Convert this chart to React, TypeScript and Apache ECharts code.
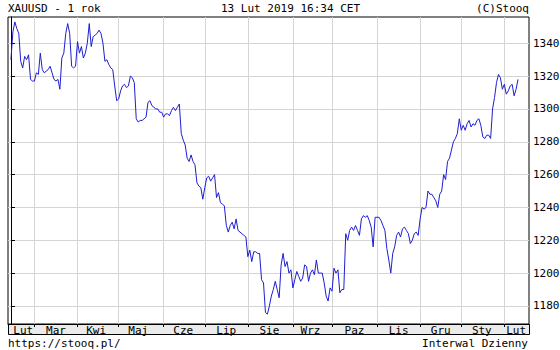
import React, { useEffect, useRef } from "react";
import * as echarts from "echarts";

// Daily XAUUSD closes, one per trading day, 13 Feb 2018 .. 13 Feb 2019
const pricesFeb18 = [1330, 1347, 1353, 1349, 1346, 1329, 1325, 1332, 1330, 1333, 1318, 1317];
const pricesMar18 = [1317, 1322, 1321, 1334, 1324, 1322, 1323, 1324, 1326, 1322, 1318, 1317, 1318, 1312, 1331, 1334, 1346, 1352, 1346, 1326, 1325, 1326];
const pricesApr18 = [1341, 1334, 1338, 1331, 1334, 1340, 1352, 1338, 1344, 1345, 1346, 1348, 1346, 1340, 1329, 1330, 1327, 1325, 1324, 1314, 1305];
const pricesMay18 = [1306, 1311, 1314, 1315, 1313, 1314, 1320, 1319, 1316, 1294, 1292, 1293, 1293, 1294, 1295, 1304, 1305, 1302, 1301, 1300, 1300, 1298, 1298];
const pricesJun18 = [1295, 1297, 1297, 1296, 1299, 1301, 1299, 1301, 1303, 1285, 1281, 1278, 1270, 1268, 1272, 1268, 1266, 1255, 1253, 1252, 1245];
const pricesJul18 = [1252, 1258, 1259, 1256, 1258, 1260, 1246, 1249, 1243, 1242, 1241, 1229, 1225, 1229, 1231, 1227, 1233, 1226, 1225, 1224, 1223, 1222];
const pricesAug18 = [1210, 1214, 1207, 1213, 1213, 1212, 1212, 1196, 1194, 1176, 1175, 1180, 1186, 1190, 1195, 1190, 1185, 1205, 1212, 1204, 1207, 1200, 1202];
const pricesSep18 = [1191, 1196, 1201, 1198, 1195, 1197, 1205, 1204, 1195, 1200, 1202, 1199, 1208, 1200, 1200, 1200, 1194, 1186, 1183, 1191];
const pricesOct18 = [1189, 1203, 1200, 1202, 1188, 1190, 1190, 1224, 1220, 1226, 1228, 1226, 1229, 1226, 1223, 1233, 1235, 1234, 1235, 1232, 1228, 1216, 1234];
const pricesNov18 = [1234, 1234, 1232, 1229, 1226, 1215, 1208, 1200, 1212, 1216, 1223, 1225, 1222, 1227, 1228, 1226, 1224, 1218, 1220, 1224, 1225, 1223];
const pricesDec18 = [1233, 1240, 1239, 1240, 1250, 1248, 1248, 1246, 1244, 1240, 1248, 1250, 1260, 1257, 1268, 1270, 1275, 1280, 1282, 1285, 1294];
const pricesJan19 = [1287, 1290, 1287, 1291, 1293, 1289, 1291, 1290, 1293, 1294, 1290, 1283, 1282, 1284, 1284, 1282, 1300, 1307, 1316, 1321, 1319, 1312];
const pricesFeb19 = [1315, 1309, 1311, 1314, 1315, 1308, 1312, 1318];

const prices = [
  ...pricesFeb18, ...pricesMar18, ...pricesApr18, ...pricesMay18, ...pricesJun18, ...pricesJul18,
  ...pricesAug18, ...pricesSep18, ...pricesOct18, ...pricesNov18, ...pricesDec18, ...pricesJan19, ...pricesFeb19,
];

// trading-day index of the first session of each month (Mar 2018 .. Feb 2019)
const monthStarts = [12, 34, 55, 78, 99, 121, 144, 164, 187, 209, 230, 252];
// month label names and their positions (trading-day index)
const monthNames = ["Lut", "Mar", "Kwi", "Maj", "Cze", "Lip", "Sie", "Wrz", "Paz", "Lis", "Gru", "Sty", "Lut"];
const monthLabelPos = [6.3, 23, 43.5, 65, 88, 110, 132, 153, 175.5, 198, 219.5, 240.5, 258];
const yTicks = [1180, 1200, 1220, 1240, 1260, 1280, 1300, 1320, 1340];

const FONT = "DejaVu Sans Mono";

export default function App() {
  const ref = useRef<HTMLDivElement>(null);
  useEffect(() => {
    if (!ref.current) return;
    const chart = echarts.init(ref.current, null, { renderer: "svg" });
    const labelMap: Record<string, string> = {};
    monthLabelPos.forEach((p, i) => (labelMap[String(p)] = monthNames[i]));
    const txt = (text: string, x: number, y: number, align: string) => ({
      type: "text",
      x,
      y,
      silent: true,
      style: { text, fontSize: 11, fontFamily: FONT, fill: "#000", textAlign: align, textVerticalAlign: "middle" },
    });
    chart.setOption({
      animation: false,
      backgroundColor: "#fff",
      grid: {
        left: 8,
        top: 17,
        width: 521,
        height: 307,
        show: true,
        borderColor: "#000",
        borderWidth: 1,
        backgroundColor: "#fff",
        containLabel: false,
        outerBoundsMode: "none",
      },
      xAxis: {
        type: "value",
        min: -1.5,
        max: 264.6,
        axisLine: { show: true, lineStyle: { color: "#000", width: 1 } },
        axisTick: { show: true, inside: false, length: 3, customValues: monthStarts, lineStyle: { color: "#000" } },
        splitLine: { show: true, lineStyle: { color: "#d4d4d4", width: 1 } },
        axisLabel: {
          customValues: monthLabelPos,
          formatter: (v: number) => labelMap[String(v)] ?? "",
          margin: 1,
          fontSize: 11,
          fontFamily: FONT,
          color: "#000",
          lineHeight: 11,
        },
      },
      yAxis: {
        type: "value",
        position: "right",
        min: 1169,
        max: 1356,
        axisLine: { show: true, lineStyle: { color: "#000", width: 1 } },
        axisTick: { show: true, inside: false, length: 4, customValues: yTicks, lineStyle: { color: "#000" } },
        splitLine: { show: true, lineStyle: { color: "#d4d4d4", width: 1 } },
        axisLabel: {
          customValues: yTicks,
          formatter: (v: number) => String(v),
          margin: 4,
          fontSize: 11,
          fontFamily: FONT,
          color: "#000",
        },
      },
      graphic: [
        {
          type: "rect",
          z: -10,
          silent: true,
          shape: { x: 8.5, y: 324.5, width: 521, height: 10 },
          style: { fill: "#ebebeb", stroke: "#000", lineWidth: 1 },
        },
        txt("XAUUSD - 1 rok", 8, 8.5, "left"),
        txt("13 Lut 2019 16:34 CET", 221, 8.5, "left"),
        txt("(C)Stooq", 529, 8.5, "right"),
        txt("https://stooq.pl/", 8, 343, "left"),
        txt("Interwal Dzienny", 528, 343, "right"),
      ],
      series: [
        {
          type: "line",
          data: prices.map((v, i) => [i, v]),
          showSymbol: false,
          symbol: "none",
          lineStyle: { color: "#1e1ed0", width: 1 },
          z: 5,
        },
      ],
    });
    return () => chart.dispose();
  }, []);
  return <div ref={ref} style={{ position: "fixed", left: 0, top: 0, width: 560, height: 350 }} />;
}
